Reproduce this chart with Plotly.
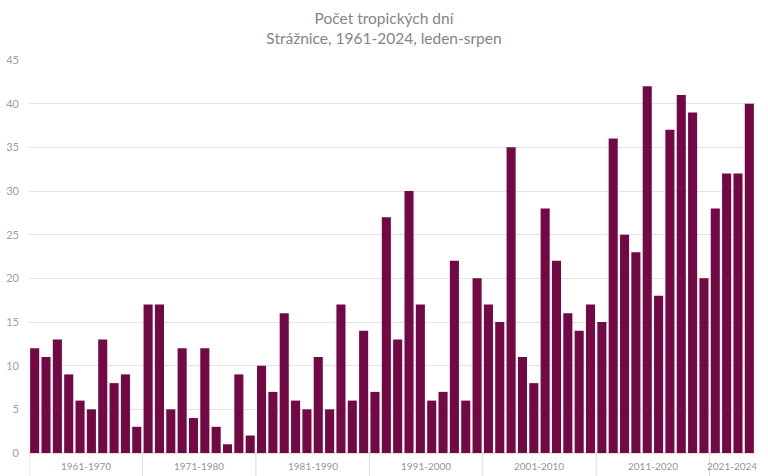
import plotly.graph_objects as go

years = list(range(1961, 2025))
tropical_days = [
    12, 11, 13, 9, 6, 5, 13, 8, 9, 3,
    17, 17, 5, 12, 4, 12, 3, 1, 9, 2,
    10, 7, 16, 6, 5, 11, 5, 17, 6, 14,
    7, 27, 13, 30, 17, 6, 7, 22, 6, 20,
    17, 15, 35, 11, 8, 28, 22, 16, 14, 17,
    15, 36, 25, 23, 42, 18, 37, 41, 39, 20,
    28, 32, 32, 40,
]
group_labels = ["1961-1970", "1971-1980", "1981-1990", "1991-2000",
                "2001-2010", "2011-2020", "2021-2024"]
group_starts = [1961, 1971, 1981, 1991, 2001, 2011, 2021]
group_ends = [1970, 1980, 1990, 2000, 2010, 2020, 2024]

BAR = "#720844"
TXT = "#959595"
FONT = "Lato"

fig = go.Figure(go.Bar(
    x=years, y=tropical_days, marker_color=BAR, marker_line_width=0,
    hovertemplate="%{x}: %{y}<extra></extra>",
))

shapes = []
annotations = []
for lab, s, e in zip(group_labels, group_starts, group_ends):
    shapes.append(dict(type="line", xref="x", yref="paper",
                       x0=s - 0.5, x1=s - 0.5, y0=0, y1=-0.065,
                       line=dict(color="#d9d9d9", width=1)))
    annotations.append(dict(xref="x", yref="paper", x=(s + e) / 2, y=-0.033,
                            text=lab, showarrow=False, yanchor="middle",
                            font=dict(size=10, color=TXT, family=FONT)))

fig.update_layout(
    width=768, height=476,
    margin=dict(l=29, r=13, t=60, b=23),
    paper_bgcolor="white", plot_bgcolor="white",
    bargap=0.2,
    showlegend=False,
    title=dict(text="Počet tropických dní<br>Strážnice, 1961-2024, leden-srpen",
               x=0.5, xanchor="center", y=1 - 23.5 / 476, yanchor="middle",
               font=dict(size=15.5, color="#858585", family=FONT)),
    xaxis=dict(range=[1960.5, 2024.5], showticklabels=False, ticks="",
               showgrid=False, zeroline=False, showline=False, automargin=False),
    yaxis=dict(range=[0, 45], dtick=5, showgrid=True, gridcolor="#e3e3e3",
               gridwidth=1, zeroline=True, zerolinecolor="#e3e3e3",
               tickfont=dict(size=11, color="#a0a0a0", family=FONT),
               ticks="", ticklabelstandoff=9, automargin=False),
    shapes=shapes,
    annotations=annotations,
)

fig.write_html("out.html", config={"displayModeBar": False},
               post_script="document.body.style.margin='0';document.body.style.overflow='hidden';")
